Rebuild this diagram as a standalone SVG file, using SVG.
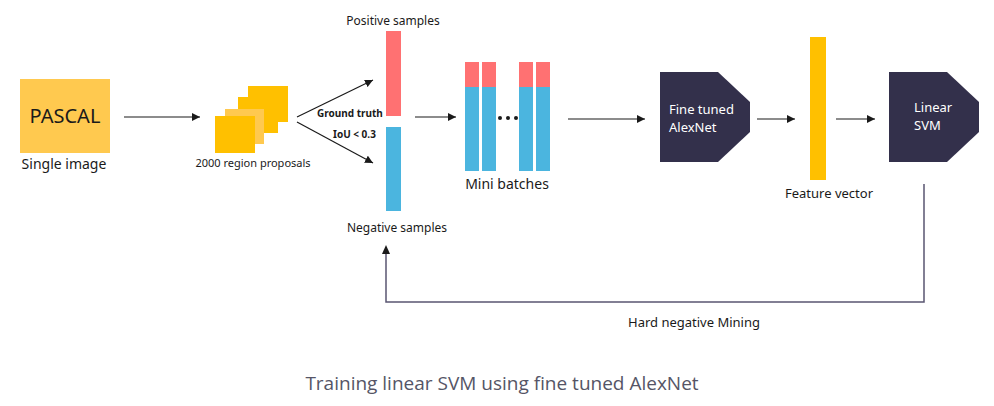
<svg xmlns="http://www.w3.org/2000/svg" width="994" height="406" viewBox="0 0 994 406">
<style>
text{font-family:"Noto Sans","Liberation Sans",sans-serif;fill:#1a1a1a}
.lbl{font-size:13px}
.small{font-size:11px}
.bold{font-size:10px;font-weight:bold}
.wt{fill:#ffffff;font-size:13px}
.conn{stroke:#1a1a1a;stroke-width:1.2;fill:none}
.fb{stroke:#5a5672;stroke-width:1.5;fill:none}
.yl{fill:#FFC94F}
.yd{fill:#FFC000}
.red{fill:#FF7172}
.blue{fill:#4BB5DF}
.navy{fill:#33304B}
</style>
<defs>
<marker id="ah" viewBox="0 0 10 10" refX="10" refY="5" markerWidth="8" markerHeight="8" markerUnits="userSpaceOnUse" orient="auto">
<path d="M0,0 L10,5 L0,10 z" fill="#1a1a1a"/>
</marker>
</defs>
<rect width="994" height="406" fill="#ffffff"/>
<g id="pascal">
<rect class="yl" x="20" y="79" width="90" height="74"/>
<text x="65" y="123" text-anchor="middle" style="font-size:20px">PASCAL</text>
<text class="lbl" x="64" y="169" text-anchor="middle" style="font-size:14px">Single image</text>
</g>
<g id="proposals">
<rect class="yd" x="248" y="86" width="40" height="36"/>
<rect class="yd" x="238" y="97" width="40" height="36"/>
<rect class="yl" x="225" y="109" width="39" height="35"/>
<rect class="yd" x="215" y="116" width="40" height="37"/>
<text class="small" x="253" y="167" text-anchor="middle">2000 region proposals</text>
</g>
<g id="positive">
<rect class="red" x="386" y="31" width="15" height="85"/>
<text class="small" x="393" y="25" text-anchor="middle" style="font-size:12px">Positive samples</text>
</g>
<g id="negative">
<rect class="blue" x="386" y="127" width="15" height="84"/>
<text class="small" x="397" y="232" text-anchor="middle" style="font-size:12px">Negative samples</text>
</g>
<g id="minibatches">
<rect class="red" x="465" y="62" width="14" height="25"/>
<rect class="blue" x="465" y="87" width="14" height="84"/>
<rect class="red" x="482" y="62" width="14" height="25"/>
<rect class="blue" x="482" y="87" width="14" height="84"/>
<rect class="red" x="519" y="62" width="14" height="25"/>
<rect class="blue" x="519" y="87" width="14" height="84"/>
<rect class="red" x="536" y="62" width="14" height="25"/>
<rect class="blue" x="536" y="87" width="14" height="84"/>
<circle cx="500" cy="118" r="2" fill="#1a1a1a"/>
<circle cx="508" cy="118" r="2" fill="#1a1a1a"/>
<circle cx="516" cy="118" r="2" fill="#1a1a1a"/>
<text class="lbl" x="507" y="189" text-anchor="middle" style="font-size:14px">Mini batches</text>
</g>
<g id="alexnet">
<path class="navy" d="M660,72 H718 L750,102 V132 L718,162 H660 Z"/>
<text class="wt" x="669" y="114">Fine tuned</text>
<text class="wt" x="669" y="132">AlexNet</text>
</g>
<g id="feature">
<rect class="yd" x="810" y="37" width="16" height="143"/>
<text class="lbl" x="829" y="198" text-anchor="middle">Feature vector</text>
</g>
<g id="svm">
<path class="navy" d="M889,72 H947 L979,102 V132 L947,162 H889 Z"/>
<text class="wt" x="914" y="112">Linear</text>
<text class="wt" x="914" y="130">SVM</text>
</g>
<g id="connectors">
<line class="conn" x1="124" y1="117" x2="200" y2="117" marker-end="url(#ah)"/>
<line class="conn" x1="297" y1="117" x2="373" y2="80" marker-end="url(#ah)"/>
<line class="conn" x1="297" y1="122" x2="373" y2="163" marker-end="url(#ah)"/>
<line class="conn" x1="415" y1="117" x2="456" y2="117" marker-end="url(#ah)"/>
<line class="conn" x1="568" y1="119" x2="645" y2="119" marker-end="url(#ah)"/>
<line class="conn" x1="757" y1="119" x2="795" y2="119" marker-end="url(#ah)"/>
<line class="conn" x1="836" y1="119" x2="875" y2="119" marker-end="url(#ah)"/>
<path class="fb" d="M924,184 V302 H386 V253"/>
<path d="M382,254 L386,245 L390,254 z" fill="#1a1a1a"/>
<text class="bold" x="317" y="117">Ground truth</text>
<text class="bold" x="333" y="138">IoU &lt; 0.3</text>
<text class="lbl" x="628" y="327">Hard negative Mining</text>
</g>
<text x="502" y="390" text-anchor="middle" style="font-family:'Open Sans','Noto Sans',sans-serif;font-size:19px;fill:#555566">Training linear SVM using fine tuned AlexNet</text>
</svg>
